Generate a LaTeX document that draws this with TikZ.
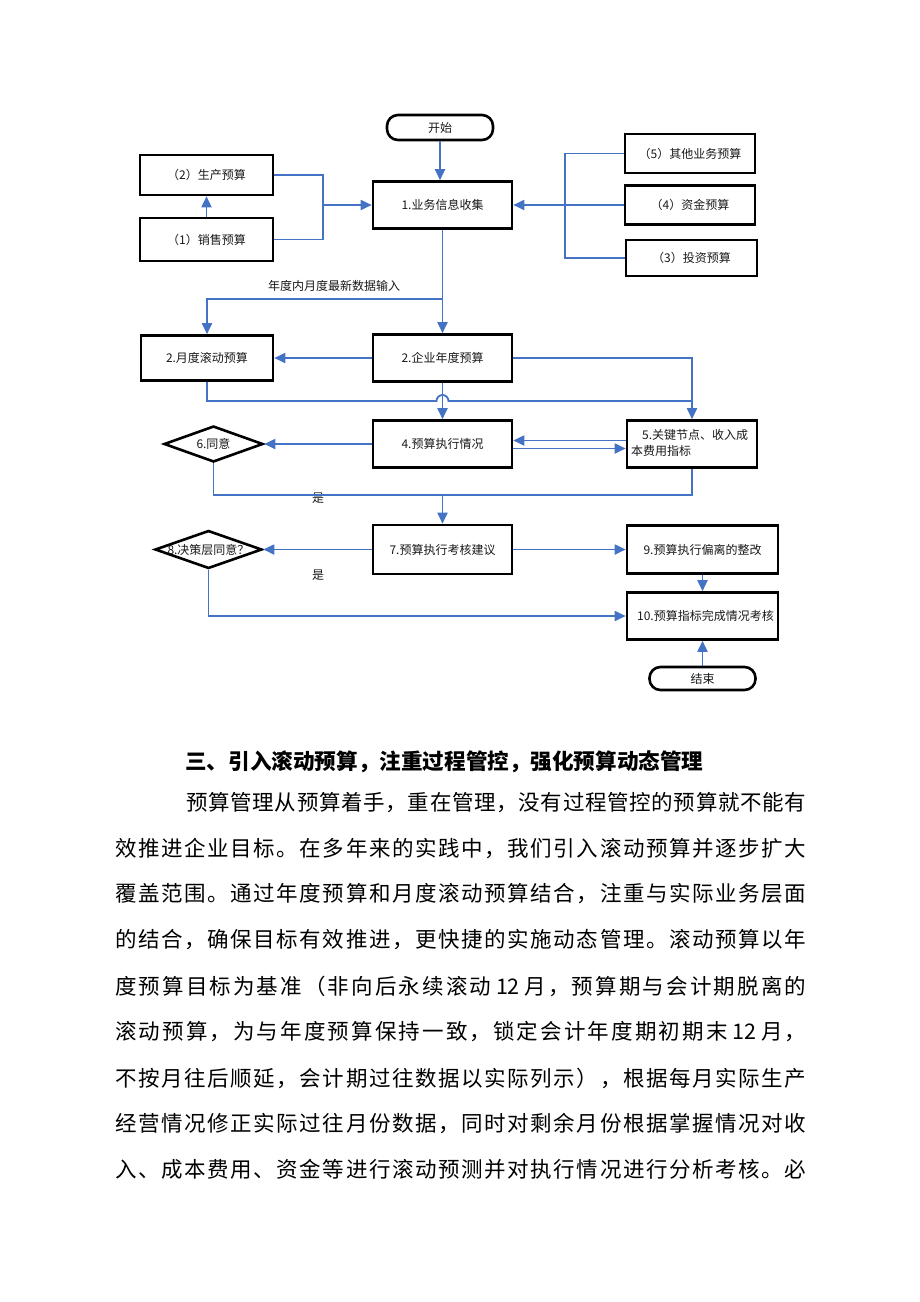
\documentclass[tikz,border=0pt]{standalone}
\usepackage{fontspec}
\newfontfamily\cjk{Noto Sans CJK SC}
\usetikzlibrary{arrows.meta,shapes.geometric,calc}
\definecolor{lnblue}{RGB}{68,114,196}
\newXeTeXintercharclass\cjkclass
\newcount\cjkcnt
\cjkcnt="4E00 \loop \XeTeXcharclass\cjkcnt=\cjkclass \advance\cjkcnt by 1 \ifnum\cjkcnt<"A000 \repeat
\cjkcnt="3000 \loop \XeTeXcharclass\cjkcnt=\cjkclass \advance\cjkcnt by 1 \ifnum\cjkcnt<"3040 \repeat
\cjkcnt="FF00 \loop \XeTeXcharclass\cjkcnt=\cjkclass \advance\cjkcnt by 1 \ifnum\cjkcnt<"FFF0 \repeat
\XeTeXinterchartoks\cjkclass\cjkclass={\hskip 0pt plus 1fil\relax}
\newcommand{\jline}[2]{\hbox to #1{\XeTeXinterchartokenstate=1\relax #2}}
\tikzset{
 box/.style={draw=black,line width=2.6pt,fill=white,inner sep=0pt,font=\cjk\fontsize{12}{16}\selectfont,text=black!90},
 term/.style={box,rounded corners=11pt},
 dia/.style={draw=black,line width=2.6pt,fill=white,shape=diamond,inner sep=0pt},
 lbl/.style={font=\cjk\fontsize{12}{16}\selectfont,text=black!90,inner sep=0pt},
 conn/.style={draw=lnblue,line width=1.8pt},
 arr/.style={conn,-{Triangle[length=11pt,width=10pt]}},
 body/.style={font=\cjk\fontsize{21.5}{26}\selectfont,anchor=west,inner sep=0pt,text=black},
}
\begin{document}
\begin{tikzpicture}[x=1pt,y=-1pt]
\useasboundingbox (0,0) rectangle (920,1302);
\fill[white] (0,0) rectangle (920,1302);

% ---- nodes ----
\node[term,minimum width=106pt,minimum height=25pt] (start) at (440,127.5) {开始};
\node[box,minimum width=133pt,minimum height=40pt] (n2prod) at (206.5,175) {（2）生产预算};
\node[box,minimum width=133pt,minimum height=43pt] (n1sale) at (206.5,239.5) {（1）销售预算};
\node[box,minimum width=139pt,minimum height=47pt] (n1) at (442.5,205) {1.业务信息收集};
\node[box,minimum width=130pt,minimum height=39pt] (n5o) at (690,153.5) {（5）其他业务预算};
\node[box,minimum width=130pt,minimum height=39pt] (n4f) at (690,205) {（4）资金预算};
\node[box,minimum width=131pt,minimum height=36pt] (n3i) at (691.5,258) {（3）投资预算};
\node[box,minimum width=132pt,minimum height=45pt] (nm) at (207,358) {2.月度滚动预算};
\node[box,minimum width=139pt,minimum height=47pt] (ny) at (442.5,358) {2.企业年度预算};
\node[box,minimum width=139pt,minimum height=47pt] (n4) at (442.5,444) {4.预算执行情况};
\node[box,minimum width=130pt,minimum height=47pt] (n5k) at (692,444) {};
\node[lbl,anchor=north west,align=left] (n5kt) at (631,429) {\hspace{11pt}5.关键节点、收入成\\本费用指标};
\node[dia,minimum width=99pt,minimum height=36pt,shape aspect=2.75] (d6) at (213.5,444) {};
\node[lbl] (d6t) at (d6) {6.同意};
\node[box,minimum width=139pt,minimum height=49pt] (n7) at (442.5,549.5) {7.预算执行考核建议};
\node[dia,minimum width=107pt,minimum height=38pt,shape aspect=2.8] (d8) at (208.5,549.5) {};
\node[lbl] (d8t) at (d8) {8.决策层同意？};
\node[box,minimum width=151pt,minimum height=48pt] (n9) at (702.5,549.5) {9.预算执行偏离的整改};
\node[box,minimum width=151pt,minimum height=47pt] (n10) at (702.5,616) {\hspace{6pt}10.预算指标完成情况考核};
\node[term,minimum width=106pt,minimum height=23pt] (end) at (702.5,678.5) {结束};

\node[lbl] (lbl1) at (334,286) {年度内月度最新数据输入};
\node[lbl] (yes1) at (318,498) {是};
\node[lbl] (yes2) at (318,575) {是};

% ---- connectors ----
\coordinate (jl) at (323,205);
\coordinate (jr) at (565,205);
\coordinate (jb) at (442.5,299);
\coordinate (hopL) at (436.5,401);
\coordinate (jy) at (442.5,495);

\draw[arr] (start.south) -- (start.south |- n1.north);
\draw[conn] (n2prod.east) -| (jl);
\draw[conn] (n1sale.east) -| (jl);
\draw[arr] (jl) -- (n1.west);
\draw[arr] (n1sale) -- (n2prod);
\draw[conn] (n5o.west) -| (jr);
\draw[conn] (n3i.west) -| (jr);
\draw[conn] (n4f.west) -- (jr);
\draw[arr] (jr) -- (n1.east);
\draw[arr] (n1.south) -- (ny.north);
\draw[arr] (jb) -| (nm.north);
\draw[arr] (ny.west) -- (nm.east);
\draw[arr] (ny.east) -| (n5k.north);
\draw[conn] (nm.south) |- (hopL) arc[start angle=180,end angle=360,radius=6] -- (n5k.north |- hopL);
\draw[arr] (ny.south) -- (n4.north);
\draw[arr] ([yshift=3.5pt]n5k.west) -- ([yshift=3.5pt]n4.east);
\draw[arr] ([yshift=-4.5pt]n4.east) -- ([yshift=-4.5pt]n5k.west);
\draw[arr] (n4.west) -- (d6.east);
\draw[conn] (d6.south) |- (jy) -| (n5k.south);
\draw[arr] (jy) -- (n7.north);
\draw[arr] (n7.west) -- (d8.east);
\draw[arr] (n7.east) -- (n9.west);
\draw[arr] (d8.south) |- (n10.west);
\draw[arr] (n9.south) -- (n10.north);
\draw[arr] (end.north) -- (n10.south);

% ---- text ----
\node[anchor=west,inner sep=0pt,font=\cjk\bfseries\fontsize{21.6}{26}\selectfont] (head) at (185,762) {三、引入滚动预算，注重过程管控，强化预算动态管理};
\node[body] (t1) at (186,803) {\jline{620pt}{预算管理从预算着手，重在管理，没有过程管控的预算就不能有}};
\node[body] (t2) at (115,849) {\jline{691pt}{效推进企业目标。在多年来的实践中，我们引入滚动预算并逐步扩大}};
\node[body] (t3) at (115,894) {\jline{691pt}{覆盖范围。通过年度预算和月度滚动预算结合，注重与实际业务层面}};
\node[body] (t4) at (115,940) {\jline{691pt}{的结合，确保目标有效推进，更快捷的实施动态管理。滚动预算以年}};
\node[body] (t5) at (115,986) {\jline{691pt}{度预算目标为基准（非向后永续滚动 12 月，预算期与会计期脱离的}};
\node[body] (t6) at (115,1032) {\jline{691pt}{滚动预算，为与年度预算保持一致，锁定会计年度期初期末 12 月，}};
\node[body] (t7) at (115,1078) {\jline{691pt}{不按月往后顺延，会计期过往数据以实际列示），根据每月实际生产}};
\node[body] (t8) at (115,1123) {\jline{691pt}{经营情况修正实际过往月份数据，同时对剩余月份根据掌握情况对收}};
\node[body] (t9) at (115,1169) {\jline{691pt}{入、成本费用、资金等进行滚动预测并对执行情况进行分析考核。必}};
\end{tikzpicture}
\end{document}
